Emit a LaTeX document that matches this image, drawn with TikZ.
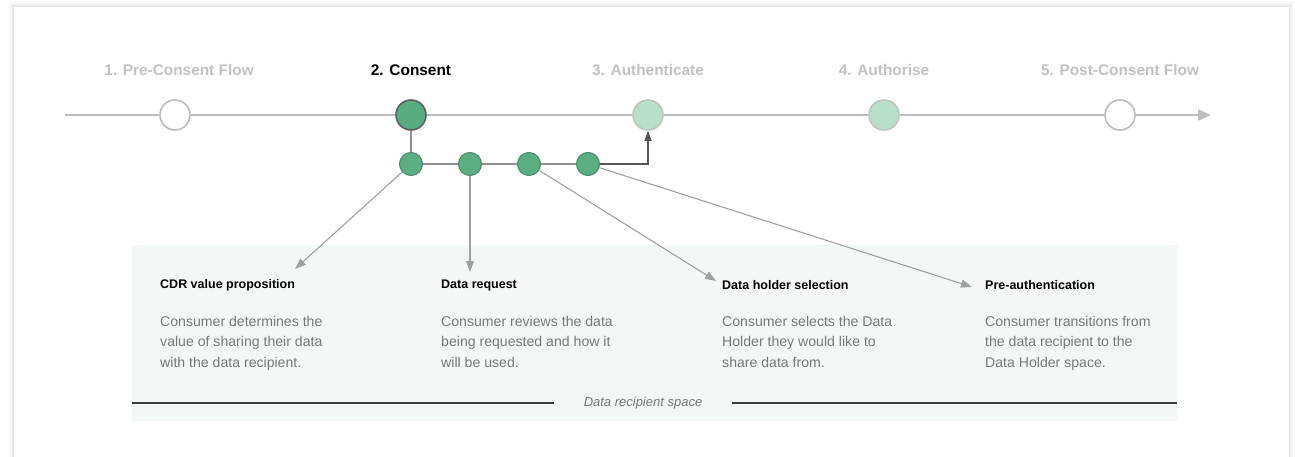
\documentclass[tikz,border=0pt]{standalone}
\usepackage{fontspec}
\setmainfont{Liberation Sans}
\usetikzlibrary{arrows.meta}
\definecolor{tlgrey}{HTML}{BDBDBD}
\definecolor{lblgrey}{HTML}{C2C2C2}
\definecolor{darkgreen}{HTML}{57AD80}
\definecolor{darkborder}{HTML}{5F5F5F}
\definecolor{lightgreen}{HTML}{B7DFCA}
\definecolor{lightborder}{HTML}{BFC4C1}
\definecolor{subfill}{HTML}{5AAE82}
\definecolor{subborder}{HTML}{4E8B6B}
\definecolor{conngrey}{HTML}{8F8F8F}
\definecolor{arrgrey}{HTML}{A0A0A0}
\definecolor{authgrey}{HTML}{555555}
\definecolor{boxfill}{HTML}{F3F8F6}
\definecolor{bodygrey}{HTML}{787878}
\definecolor{rulegrey}{HTML}{3C3C3C}
\tikzset{
  stage/.style={circle, minimum size=30pt, inner sep=0pt, line width=1.6pt},
  openstage/.style={stage, draw=tlgrey, fill=white},
  curstage/.style={stage, draw=darkborder, fill=darkgreen},
  nextstage/.style={stage, draw=lightborder, fill=lightgreen},
  substep/.style={circle, minimum size=23pt, inner sep=0pt, draw=subborder, fill=subfill, line width=1.1pt},
  stagelabel/.style={font=\fontsize{15.4}{18}\selectfont\bfseries, text=lblgrey, inner sep=0pt},
  timeline/.style={draw=tlgrey, line width=2.2pt},
  subline/.style={draw=conngrey, line width=1.4pt},
  pointer/.style={draw=arrgrey, line width=1.1pt, -{Triangle[length=11pt,width=8pt]}},
  title/.style={font=\fontsize{12.5}{15}\selectfont\bfseries, anchor=west, inner sep=0pt},
  body/.style={font=\fontsize{14.1}{20.4}\selectfont, text=bodygrey, anchor=north west, inner sep=0pt, align=left},
}
\begin{document}
\begin{tikzpicture}[x=1pt, y=-1pt]
\useasboundingbox (0,0) rectangle (1295,457);
% card shadow
\foreach \i/\o in {1/0.10,2/0.07,3/0.05,4/0.035,5/0.02,6/0.01}
  \draw[black, opacity=\o, line width=1pt] ({14-\i},480) -- ({14-\i},{8-\i}) -- ({1288+\i},{8-\i}) -- ({1288+\i},480);
\fill[white] (14,8) rectangle (1288,480);
% data recipient space box
\fill[boxfill] (132,245) rectangle (1177,421);
% timeline stages
\node[openstage] (c1) at (175,115) {};
\node[curstage] (c2) at (411,115) {};
\node[nextstage] (c3) at (648,115) {};
\node[nextstage] (c4) at (884,115) {};
\node[openstage] (c5) at (1120,115) {};
\coordinate (tstart) at (65,115);
\coordinate (tend) at (1211,115);
\draw[timeline] (tstart) -- (c1);
\draw[timeline] (c1) -- (c2);
\draw[timeline] (c2) -- (c3);
\draw[timeline] (c3) -- (c4);
\draw[timeline] (c4) -- (c5);
\draw[timeline, -{Triangle[length=13pt,width=11pt]}] (c5) -- (tend);
% stage labels
\node[stagelabel] (l1) at (179,70) {1. Pre-Consent Flow};
\node[stagelabel, text=black] (l2) at (411,70) {2. Consent};
\node[stagelabel] (l3) at (648,70) {3. Authenticate};
\node[stagelabel] (l4) at (884,70) {4. Authorise};
\node[stagelabel] (l5) at (1120,70) {5. Post-Consent Flow};
% sub steps
\node[substep] (s1) at (411,164) {};
\node[substep] (s2) at (470,164) {};
\node[substep] (s3) at (529,164) {};
\node[substep] (s4) at (588,164) {};
\draw[subline] (c2) -- (s1);
\draw[subline] (s1) -- (s2);
\draw[subline] (s2) -- (s3);
\draw[subline] (s3) -- (s4);
\draw[draw=authgrey, line width=1.4pt, -{Triangle[length=10pt,width=7pt]}] (s4) -- (c3 |- s4) -- (c3);
% titles
\node[title] (t1) at (160,285) {CDR value proposition};
\node[title] (t2) at (441,285) {Data request};
\node[title] (t3) at (722,285) {Data holder selection};
\node[title] (t4) at (985,285) {Pre-authentication};
% bodies
\node[body] (b1) at (160,316) {Consumer determines the\\value of sharing their data\\with the data recipient.};
\node[body] (b2) at (441,316) {Consumer reviews the data\\being requested and how it\\will be used.};
\node[body] (b3) at (722,316) {Consumer selects the Data\\Holder they would like to\\share data from.};
\node[body] (b4) at (985,316) {Consumer transitions from\\the data recipient to the\\Data Holder space.};
% pointers
\coordinate (a1) at (295,269);
\coordinate (a2) at (470,272);
\coordinate (a3) at (716,281);
\coordinate (a4) at (972,287);
\draw[pointer] (s1) -- (a1);
\draw[pointer] (s2) -- (a2);
\draw[pointer] (s3) -- (a3);
\draw[pointer] (s4) -- (a4);
% space label
\node[font=\fontsize{13}{15}\selectfont\itshape, text=bodygrey, inner sep=0pt] (space) at (643,403) {Data recipient space};
\coordinate (r1) at (132,403);
\coordinate (r2) at (1177,403);
\draw[rulegrey, line width=1.3pt] (r1) -- ([xshift=-30pt]space.west);
\draw[rulegrey, line width=1.3pt] ([xshift=30pt]space.east) -- (r2);
\end{tikzpicture}
\end{document}
